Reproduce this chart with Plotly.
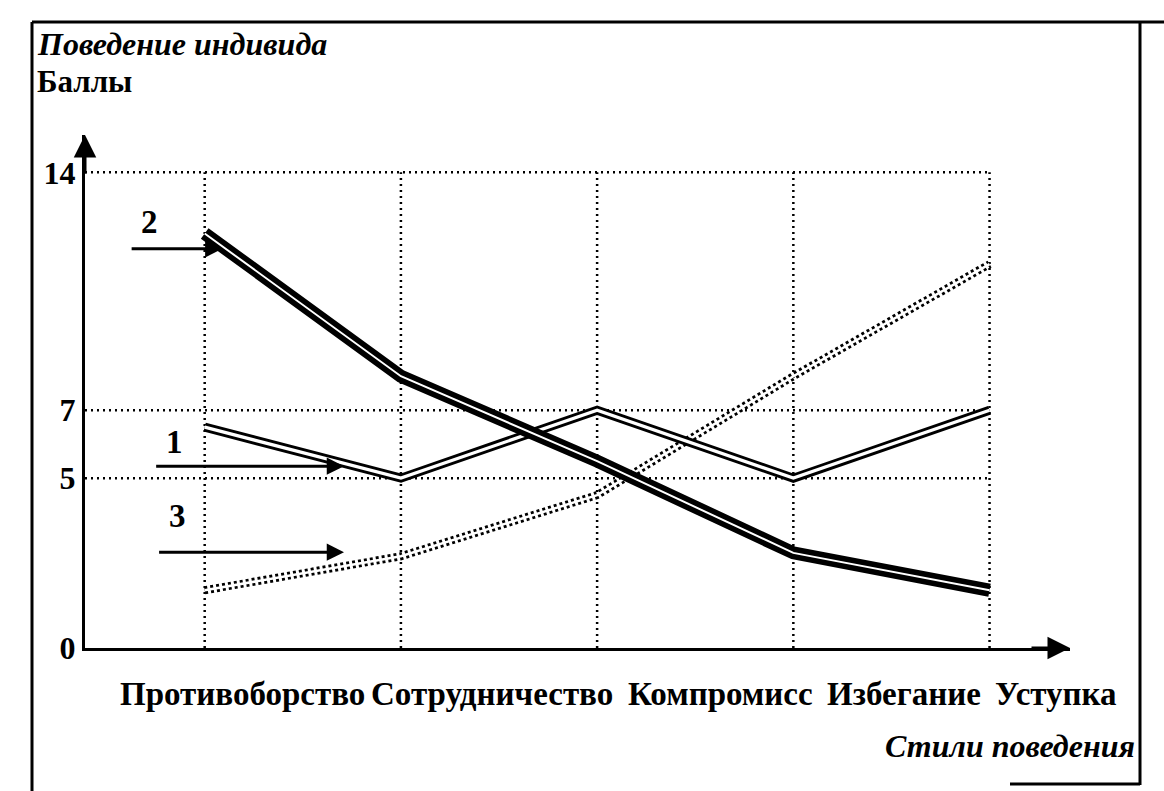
import plotly.graph_objects as go

# ---- data ----
categories = ["Противоборство", "Сотрудничество", "Компромисс", "Избегание", "Уступка"]
series1 = [6.5, 5.0, 7.0, 5.0, 7.0]     # line "1"
series2 = [12.2, 8.0, 5.5, 2.8, 1.7]    # line "2"
series3 = [1.7, 2.7, 4.5, 8.0, 11.3]    # line "3"
y_ticks = [0, 5, 7, 14]
y_tick_labels = ["0", "5", "7", "14"]
series_labels = ["1", "2", "3"]

# ---- layout geometry ----
W, H = 1164, 791
L, R, T, B = 85, 94, 135, 143
XMIN, XMAX = -0.61, 4.41
YMIN, YMAX = 0, 15.1
FONT = "Liberation Serif, Times New Roman, serif"
x_idx = list(range(len(categories)))


def paper(xp, yp):
    return (xp - L) / (W - L - R), (H - B - yp) / (H - T - B)


fig = go.Figure()


def double_line(values, width, gap, dash=None):
    black = dict(color="black", width=width)
    if dash:
        black["dash"] = dash
    fig.add_trace(go.Scatter(x=x_idx, y=values, mode="lines", line=black,
                             hoverinfo="skip", showlegend=False))
    fig.add_trace(go.Scatter(x=x_idx, y=values, mode="lines",
                             line=dict(color="white", width=gap),
                             hoverinfo="skip", showlegend=False))


# draw order: 3, 1, 2
double_line(series3, 8, 2.5, dash="3px,3px")
double_line(series1, 9, 3.2)
double_line(series2, 13, 2.0)

shapes = []
grid_style = dict(color="black", width=2.5, dash="2px,4px")
for v in y_ticks[1:]:
    shapes.append(dict(type="line", xref="x", yref="y", x0=XMIN, x1=x_idx[-1], y0=v, y1=v,
                       line=grid_style, layer="below"))
for i in x_idx:
    shapes.append(dict(type="line", xref="x", yref="y", x0=i, x1=i, y0=0, y1=max(y_ticks),
                       line=grid_style, layer="below"))

# page frame (scanned page border)
frame = [((32, 22), (1164, 22)), ((32, 22), (32, 791)), ((1140, 22), (1140, 785)),
         ((1010, 784), (1140, 784))]
for (ax0, ay0), (ax1, ay1) in frame:
    p0 = paper(ax0, ay0)
    p1 = paper(ax1, ay1)
    shapes.append(dict(type="line", xref="paper", yref="paper", x0=p0[0], y0=p0[1],
                       x1=p1[0], y1=p1[1], line=dict(color="black", width=3)))

ann = []
# axis arrowheads
ann.append(dict(x=XMIN, y=YMAX, xref="x", yref="y", ax=0, ay=40, text="", showarrow=True,
                arrowhead=2, arrowsize=1.5, arrowwidth=3, arrowcolor="black"))
ann.append(dict(x=XMAX, y=0, xref="x", yref="y", ax=-40, ay=0, text="", showarrow=True,
                arrowhead=2, arrowsize=1.5, arrowwidth=3, arrowcolor="black"))

# series pointer arrows and numbers
pointers = [  # (label, tail_x, tip_x, y, label_y)
    (series_labels[1], -0.38, 0.09, 11.75, 12.55),
    (series_labels[0], -0.255, 0.71, 5.35, 6.05),
    (series_labels[2], -0.24, 0.71, 2.82, 3.9),
]
for lab, tx, hx, yy, ly in pointers:
    ann.append(dict(x=hx, y=yy, xref="x", yref="y", ax=tx, ay=yy, axref="x", ayref="y",
                    text="", showarrow=True, arrowhead=2, arrowsize=1.15, arrowwidth=3,
                    arrowcolor="black"))
    ann.append(dict(x=tx + 0.1, y=ly, xref="x", yref="y", text=f"<b>{lab}</b>", showarrow=False,
                    font=dict(family=FONT, size=33, color="black")))

# category labels under the axis
label_shift = [38, 91, 123, 111, 66]
for i, c in enumerate(categories):
    ann.append(dict(x=i, y=0, xref="x", yref="paper", yanchor="middle", yshift=-46,
                    xshift=label_shift[i], text=f"<b>{c}</b>", showarrow=False,
                    font=dict(family=FONT, size=33, color="black")))

# titles
px_, py_ = paper(35, 44)
ann.append(dict(x=px_, y=py_, xref="paper", yref="paper", xanchor="left", yanchor="middle",
                text="<b><i>Поведение индивида</i></b>", showarrow=False,
                font=dict(family=FONT, size=32, color="black")))
px_, py_ = paper(35, 82)
ann.append(dict(x=px_, y=py_, xref="paper", yref="paper", xanchor="left", yanchor="middle",
                text="<b>Баллы</b>", showarrow=False,
                font=dict(family=FONT, size=31, color="black")))
px_, py_ = paper(1137, 746)
ann.append(dict(x=px_, y=py_, xref="paper", yref="paper", xanchor="right", yanchor="middle",
                text="<b><i>Стили поведения</i></b>", showarrow=False,
                font=dict(family=FONT, size=32, color="black")))

fig.update_layout(
    width=W, height=H,
    margin=dict(l=L, r=R, t=T, b=B, pad=0, autoexpand=False),
    paper_bgcolor="white", plot_bgcolor="white",
    showlegend=False,
    shapes=shapes, annotations=ann,
    xaxis=dict(range=[XMIN, XMAX], showline=True, linecolor="black", linewidth=3,
               showgrid=False, zeroline=False, showticklabels=False, ticks="",
               tickvals=x_idx),
    yaxis=dict(range=[YMIN, YMAX], showline=True, linecolor="black", linewidth=3,
               showgrid=False, zeroline=False, tickvals=y_ticks,
               ticktext=[f"<b>{t}</b>" for t in y_tick_labels], ticks="",
               tickfont=dict(family=FONT, size=32, color="black")),
)

fig.write_html("out.html", config={"displayModeBar": False},
               post_script="document.body.style.margin='0';")
